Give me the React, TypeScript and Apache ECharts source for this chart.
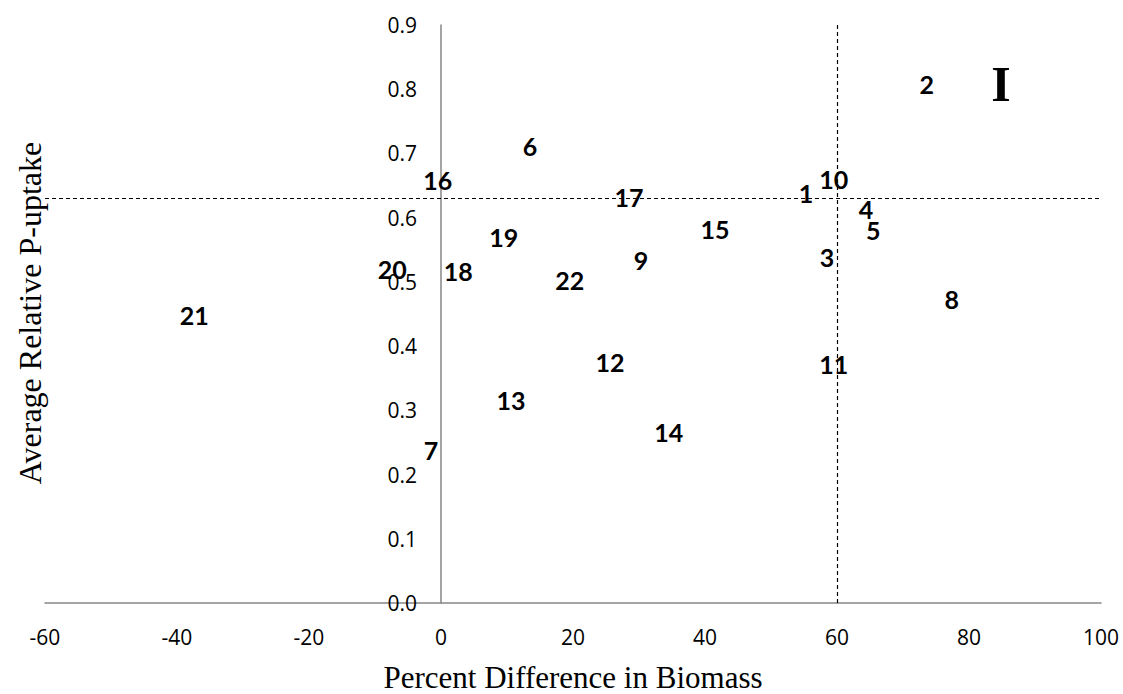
import React, { useEffect, useRef } from "react";
import * as echarts from "echarts";

const pointIds = ["1","2","3","4","5","6","7","8","9","10","11","12","13","14","15","16","17","18","19","20","21","22"];
const biomassDiff = [55.3, 73.6, 58.5, 64.4, 65.5, 13.5, -1.5, 77.4, 30.3, 59.5, 59.5, 25.6, 10.6, 34.5, 41.5, -0.5, 28.5, 2.6, 9.5, -7.4, -37.4, 19.5];
const pUptake = [0.639, 0.808, 0.539, 0.614, 0.581, 0.712, 0.238, 0.474, 0.534, 0.660, 0.372, 0.375, 0.316, 0.266, 0.583, 0.659, 0.632, 0.517, 0.570, 0.520, 0.449, 0.503];
const refBiomass = 60;
const refUptake = 0.631;
const xTitle = "Percent Difference in Biomass";
const yTitle = "Average Relative P-uptake";

export default function App() {
  const ref = useRef<HTMLDivElement>(null);
  useEffect(() => {
    if (!ref.current) return;
    const chart = echarts.init(ref.current, null, { renderer: "svg" });
    const data = pointIds.map((id, i) => [biomassDiff[i], pUptake[i], id]);
    chart.setOption({
      animation: false,
      backgroundColor: "#ffffff",
      grid: { left: 45, right: 22, top: 25, bottom: 91, containLabel: false, outerBoundsMode: "none" },
      xAxis: {
        type: "value",
        min: -60,
        max: 100,
        interval: 20,
        splitLine: { show: false },
        axisTick: { show: false },
        axisLine: { onZero: true, lineStyle: { color: "#868686", width: 1.5 } },
        axisLabel: { color: "#000", fontFamily: "Open Sans", fontSize: 21, margin: 23 },
        name: xTitle,
        nameLocation: "middle",
        nameGap: 58,
        nameTextStyle: { color: "#000", fontFamily: "Liberation Serif", fontSize: 31, lineHeight: 32 },
      },
      yAxis: {
        type: "value",
        min: 0,
        max: 0.9,
        interval: 0.1,
        offset: -396,
        splitLine: { show: false },
        axisTick: { show: false },
        axisLine: { onZero: false, lineStyle: { color: "#868686", width: 1.5 } },
        axisLabel: {
          color: "#000",
          fontFamily: "Open Sans",
          fontSize: 21,
          margin: 24,
          formatter: (v: number) => v.toFixed(1),
        },
      },
      graphic: [
        {
          type: "text",
          x: 30,
          y: 313,
          rotation: Math.PI / 2,
          style: {
            text: yTitle,
            fill: "#000",
            font: "32px 'Liberation Serif'",
            align: "center",
            verticalAlign: "middle",
          },
        },
        {
          type: "text",
          x: 1001,
          y: 84,
          style: {
            text: "I",
            fill: "#000",
            font: "bold 50px 'Liberation Serif'",
            align: "center",
            verticalAlign: "middle",
          },
        },
      ],
      series: [
        {
          type: "scatter",
          data,
          symbolSize: 2,
          itemStyle: { color: "rgba(0,0,0,0)", opacity: 1 },
          label: {
            show: true,
            position: "inside",
            formatter: (p: any) => p.data[2],
            color: "#000000",
            textBorderWidth: 0,
            fontFamily: "Lato",
            fontWeight: "bold",
            fontSize: 25,
          },
          labelLayout: { hideOverlap: false },
          markLine: {
            silent: true,
            symbol: "none",
            label: { show: false },
            lineStyle: { color: "#000", type: [4, 3], width: 1.2 },
            data: [{ xAxis: refBiomass }, { yAxis: refUptake }],
          },
        },
      ],
    });
    return () => chart.dispose();
  }, []);
  return <div ref={ref} style={{ position: "fixed", left: 0, top: 0, width: 1123, height: 694 }} />;
}
